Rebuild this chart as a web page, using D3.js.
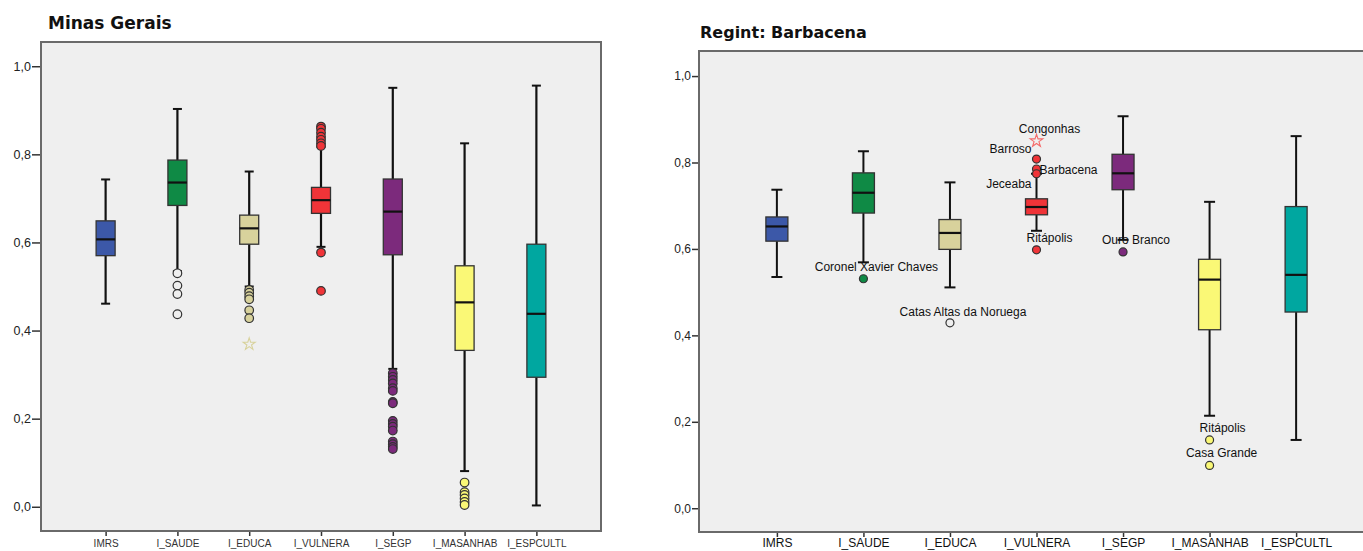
<!DOCTYPE html>
<html>
<head>
<meta charset="utf-8">
<script src="https://cdn.jsdelivr.net/npm/d3@7"></script>
<style>
  html, body { margin: 0; padding: 0; background: #ffffff; }
  svg { display: block; }
</style>
</head>
<body>
<svg id="chart" width="1363" height="551"></svg>
<script>
// ---------------- DATA ----------------
const categories = ["IMRS", "I_SAUDE", "I_EDUCA", "I_VULNERA", "I_SEGP", "I_MASANHAB", "I_ESPCULTL"];
const yTicks = [0.0, 0.2, 0.4, 0.6, 0.8, 1.0];

// Panel 1: Minas Gerais
const mgTitle = "Minas Gerais";
const mgLowWhisker  = [0.461, 0.535, 0.500, 0.590, 0.313, 0.081, 0.003];
const mgQ1          = [0.570, 0.684, 0.596, 0.666, 0.572, 0.355, 0.294];
const mgMedian      = [0.607, 0.736, 0.632, 0.696, 0.670, 0.464, 0.438];
const mgQ3          = [0.649, 0.787, 0.662, 0.725, 0.744, 0.547, 0.596];
const mgHighWhisker = [0.743, 0.903, 0.761, 0.817, 0.951, 0.825, 0.956];
const mgOutliers = [
  ["I_SAUDE", 0.530], ["I_SAUDE", 0.502], ["I_SAUDE", 0.483], ["I_SAUDE", 0.437],
  ["I_EDUCA", 0.492], ["I_EDUCA", 0.486], ["I_EDUCA", 0.478], ["I_EDUCA", 0.471],
  ["I_EDUCA", 0.446], ["I_EDUCA", 0.428],
  ["I_VULNERA", 0.863], ["I_VULNERA", 0.858], ["I_VULNERA", 0.849], ["I_VULNERA", 0.840],
  ["I_VULNERA", 0.833], ["I_VULNERA", 0.825], ["I_VULNERA", 0.819],
  ["I_VULNERA", 0.577], ["I_VULNERA", 0.490],
  ["I_SEGP", 0.303], ["I_SEGP", 0.295], ["I_SEGP", 0.288], ["I_SEGP", 0.280],
  ["I_SEGP", 0.269], ["I_SEGP", 0.263], ["I_SEGP", 0.238], ["I_SEGP", 0.235],
  ["I_SEGP", 0.195], ["I_SEGP", 0.188], ["I_SEGP", 0.182], ["I_SEGP", 0.173],
  ["I_SEGP", 0.148], ["I_SEGP", 0.142], ["I_SEGP", 0.136], ["I_SEGP", 0.131],
  ["I_MASANHAB", 0.055], ["I_MASANHAB", 0.033], ["I_MASANHAB", 0.027],
  ["I_MASANHAB", 0.019], ["I_MASANHAB", 0.011], ["I_MASANHAB", 0.004]
];
const mgExtremes = [["I_EDUCA", 0.369]];
const mgHollow = ["I_SAUDE"];

// Panel 2: Regint: Barbacena
const bbTitle = "Regint: Barbacena";
const bbLowWhisker  = [0.535, 0.569, 0.511, 0.642, 0.621, 0.214, 0.158];
const bbQ1          = [0.618, 0.683, 0.599, 0.679, 0.737, 0.413, 0.454];
const bbMedian      = [0.652, 0.730, 0.637, 0.697, 0.775, 0.529, 0.540];
const bbQ3          = [0.674, 0.776, 0.668, 0.716, 0.819, 0.576, 0.698];
const bbHighWhisker = [0.737, 0.826, 0.754, 0.774, 0.907, 0.709, 0.861];
const bbOutliers = [
  ["I_SAUDE", 0.531, "Coronel Xavier Chaves"],
  ["I_EDUCA", 0.429, "Catas Altas da Noruega"],
  ["I_VULNERA", 0.808, "Barroso"],
  ["I_VULNERA", 0.785, "Barbacena"],
  ["I_VULNERA", 0.774, "Jeceaba"],
  ["I_VULNERA", 0.598, "Ritápolis"],
  ["I_SEGP", 0.593, "Ouro Branco"],
  ["I_MASANHAB", 0.158, "Ritápolis"],
  ["I_MASANHAB", 0.099, "Casa Grande"]
];
const bbExtremes = [["I_VULNERA", 0.850, "Congonhas"]];
const bbHollow = ["I_EDUCA"];

// ---------------- STYLES ----------------
const boxColors = ["#3c58a8", "#0f8a45", "#d8d29c", "#f03438", "#7c2a7c", "#faf876", "#00a7a0"];
const fontFamily = "'Liberation Sans', Arial, Helvetica, sans-serif";
const titleFamily = "'DejaVu Sans', Verdana, sans-serif";
// label placements (offsets in px relative to the point)
const labelPlacement = {
  "Coronel Xavier Chaves": { anchor: "middle", dx: 13, dy: -12 },
  "Catas Altas da Noruega": { anchor: "middle", dx: 13, dy: -11 },
  "Barroso": { anchor: "end", dx: -5, dy: -10 },
  "Barbacena": { anchor: "start", dx: 3, dy: 1 },
  "Jeceaba": { anchor: "end", dx: -5, dy: 10 },
  "Ritápolis": { anchor: "middle", dx: 13, dy: -12 },
  "Ouro Branco": { anchor: "middle", dx: 13, dy: -12 },
  "Casa Grande": { anchor: "middle", dx: 12, dy: -12 },
  "Congonhas": { anchor: "middle", dx: 13, dy: -12 }
};

const svg = d3.select("#chart");

function drawPanel(p) {
  const g = svg.append("g");
  const x = d3.scalePoint().domain(categories).range([p.left, p.right]).padding(0.9);
  const y = d3.scaleLinear().domain([-0.055, p.yMax]).range([p.bottom, p.top]);

  g.append("rect")
    .attr("x", p.left).attr("y", p.top)
    .attr("width", p.right - p.left).attr("height", p.bottom - p.top)
    .attr("fill", "#efefef");

  g.append("text")
    .attr("x", p.titleX).attr("y", p.titleY)
    .attr("font-family", titleFamily).attr("font-weight", "bold")
    .attr("font-size", p.titleSize).attr("fill", "#111")
    .text(p.title);

  const yAxis = g.append("g")
    .attr("transform", `translate(${p.left},0)`)
    .call(d3.axisLeft(y).tickValues(yTicks).tickSize(p.yTickSize).tickPadding(1)
      .tickFormat(d => d3.format(".1f")(d).replace(".", ",")));
  yAxis.select(".domain").remove();
  yAxis.selectAll(".tick line").attr("stroke", "#333").attr("stroke-width", 1.5);
  yAxis.selectAll(".tick text")
    .attr("font-family", fontFamily).attr("font-size", p.yFontSize).attr("fill", "#222");

  const xAxis = g.append("g")
    .attr("transform", `translate(0,${p.bottom})`)
    .call(d3.axisBottom(x).tickSize(p.xTickSize).tickPadding(p.xTickPad));
  xAxis.select(".domain").remove();
  xAxis.selectAll(".tick line").attr("stroke", "#333").attr("stroke-width", 1.5);
  xAxis.selectAll(".tick text")
    .attr("font-family", fontFamily).attr("font-size", p.xFontSize)
    .attr("fill", p.xColor).attr("font-weight", p.xWeight);

  const bw = p.boxWidth, cw = p.capWidth;
  categories.forEach((c, i) => {
    const cx = x(c);
    const bg = g.append("g");
    bg.append("line").attr("x1", cx).attr("x2", cx)
      .attr("y1", y(p.high[i])).attr("y2", y(p.q3[i]))
      .attr("stroke", "#111").attr("stroke-width", p.whiskerWidth);
    bg.append("line").attr("x1", cx).attr("x2", cx)
      .attr("y1", y(p.low[i])).attr("y2", y(p.q1[i]))
      .attr("stroke", "#111").attr("stroke-width", p.whiskerWidth);
    bg.append("line").attr("x1", cx - cw / 2).attr("x2", cx + cw / 2)
      .attr("y1", y(p.high[i])).attr("y2", y(p.high[i]))
      .attr("stroke", "#111").attr("stroke-width", 2);
    bg.append("line").attr("x1", cx - cw / 2).attr("x2", cx + cw / 2)
      .attr("y1", y(p.low[i])).attr("y2", y(p.low[i]))
      .attr("stroke", "#111").attr("stroke-width", 2);
    bg.append("rect")
      .attr("x", cx - bw / 2).attr("y", y(p.q3[i]))
      .attr("width", bw).attr("height", y(p.q1[i]) - y(p.q3[i]))
      .attr("fill", boxColors[i]).attr("stroke", "#333").attr("stroke-width", 1.3);
    bg.append("line").attr("x1", cx - bw / 2).attr("x2", cx + bw / 2)
      .attr("y1", y(p.median[i])).attr("y2", y(p.median[i]))
      .attr("stroke", "#111").attr("stroke-width", 2.2);
  });

  p.outliers.forEach(o => {
    const ci = categories.indexOf(o[0]);
    const hollow = p.hollow.includes(o[0]);
    g.append("circle")
      .attr("cx", x(o[0])).attr("cy", y(o[1])).attr("r", p.dotR)
      .attr("fill", hollow ? "#efefef" : boxColors[ci])
      .attr("stroke", "#333").attr("stroke-width", 1.2);
  });

  p.extremes.forEach(o => {
    const ci = categories.indexOf(o[0]);
    g.append("path")
      .attr("d", d3.symbol().type(d3.symbolStar).size(p.starSize)())
      .attr("transform", `translate(${x(o[0])},${y(o[1])})`)
      .attr("fill", "none")
      .attr("stroke", ci === 3 ? "#f46a6a" : "#d8d29c").attr("stroke-width", 1.1);
  });

  [...p.outliers, ...p.extremes].forEach(o => {
    if (!o[2]) return;
    const pl = labelPlacement[o[2]];
    g.append("text")
      .attr("x", x(o[0]) + pl.dx).attr("y", y(o[1]) + pl.dy)
      .attr("text-anchor", pl.anchor).attr("dominant-baseline", "central")
      .attr("font-family", fontFamily).attr("font-size", p.labelSize).attr("fill", "#111")
      .text(o[2]);
  });

  g.append("rect")
    .attr("x", p.left).attr("y", p.top)
    .attr("width", p.right - p.left).attr("height", p.bottom - p.top)
    .attr("fill", "none").attr("stroke", "#6a6a6a").attr("stroke-width", 2);
}

drawPanel({
  title: mgTitle, titleX: 48, titleY: 29, titleSize: 17,
  left: 41, right: 601, top: 42, bottom: 531, yMax: 1.055,
  low: mgLowWhisker, q1: mgQ1, median: mgMedian, q3: mgQ3, high: mgHighWhisker,
  outliers: mgOutliers, extremes: mgExtremes, hollow: mgHollow,
  boxWidth: 19, capWidth: 9, whiskerWidth: 2.2, dotR: 4.3, starSize: 45,
  yTickSize: 9, yFontSize: 12.5, xTickSize: 5, xTickPad: 4, xFontSize: 10,
  xColor: "#333", xWeight: "normal", labelSize: 11
});

drawPanel({
  title: bbTitle, titleX: 700, titleY: 38, titleSize: 16,
  left: 699, right: 1374, top: 51, bottom: 532, yMax: 1.058,
  low: bbLowWhisker, q1: bbQ1, median: bbMedian, q3: bbQ3, high: bbHighWhisker,
  outliers: bbOutliers, extremes: bbExtremes, hollow: bbHollow,
  boxWidth: 22, capWidth: 11, whiskerWidth: 2, dotR: 4, starSize: 50,
  yTickSize: 7, yFontSize: 12, xTickSize: 5, xTickPad: 1, xFontSize: 12,
  xColor: "#111", xWeight: "normal", labelSize: 12
});
</script>
</body>
</html>
